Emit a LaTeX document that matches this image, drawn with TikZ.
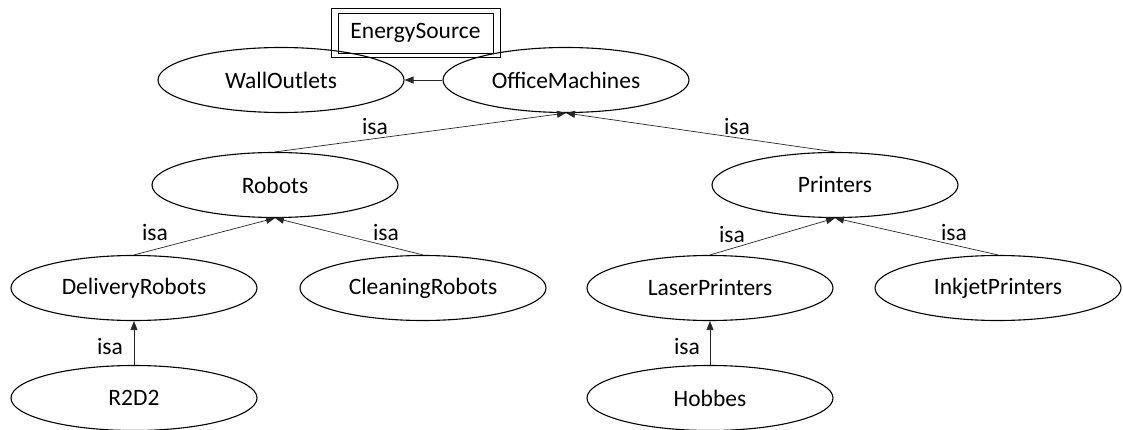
\documentclass[tikz,border=0pt]{standalone}
\usepackage{fontspec}
\setmainfont{Carlito}
\usetikzlibrary{shapes.geometric,arrows.meta,fit}
\begin{document}
\begin{tikzpicture}[x=1pt,y=-1pt,
  every node/.style={font=\fontsize{23.5}{28}\selectfont},
  cls/.style={ellipse,draw=black,line width=1.1pt,minimum width=246pt,minimum height=65pt,inner sep=0pt},
  isaedge/.style={draw=black!85,line width=0.7pt,-{Triangle[length=9pt,width=7pt]}},
  lbl/.style={inner sep=0pt}]
\useasboundingbox (0,0) rectangle (1123,430);
\node[cls] (wo) at (281,80) {WallOutlets};
\node[cls] (om) at (566,80) {OfficeMachines};
\node[cls] (rb) at (275,185) {Robots};
\node[cls] (pr) at (835,185) {Printers};
\node[cls] (dr) at (134,288) {DeliveryRobots};
\node[cls] (cr) at (423,288) {CleaningRobots};
\node[cls] (lp) at (710,288) {LaserPrinters};
\node[cls] (ip) at (998,288) {InkjetPrinters};
\node[cls] (r2) at (134,398) {R2D2};
\node[cls] (hb) at (710,398) {Hobbes};
\node[draw=black,line width=0.9pt,minimum width=155pt,minimum height=40pt,inner sep=0pt] (es) at (415.5,33) {EnergySource};
\node[draw=black,line width=0.9pt,fit=(es),inner xsep=6.5pt,inner ysep=4.5pt] (esout) {};
\draw[isaedge] (om.west) -- (wo.east);
\draw[isaedge] (rb.north) -- (om.south);
\draw[isaedge] (pr.north) -- (om.south);
\draw[isaedge] (dr.north) -- (rb.south);
\draw[isaedge] (cr.north) -- (rb.south);
\draw[isaedge] (lp.north) -- (pr.south);
\draw[isaedge] (ip.north) -- (pr.south);
\draw[isaedge] (r2.north) -- (dr.south);
\draw[isaedge] (hb.north) -- (lp.south);
\node[lbl] (l1) at (375,127) {isa};
\node[lbl] (l2) at (737,127) {isa};
\node[lbl] (l3) at (155,233) {isa};
\node[lbl] (l4) at (386,233) {isa};
\node[lbl] (l5) at (732,235) {isa};
\node[lbl] (l6) at (954,233) {isa};
\node[lbl] (l7) at (110,347) {isa};
\node[lbl] (l8) at (687,347) {isa};
\end{tikzpicture}
\end{document}
